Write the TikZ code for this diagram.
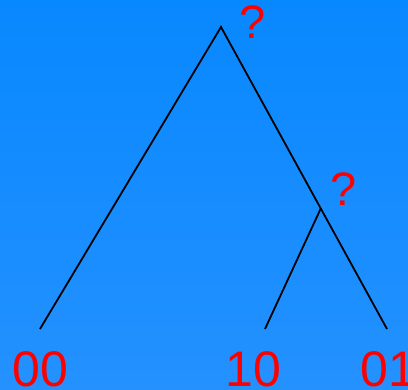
\documentclass[tikz,border=0pt]{standalone}
\usepackage{fontspec}
\setmainfont{Liberation Sans}
\definecolor{bgtop}{RGB}{8,136,255}
\definecolor{bgbot}{RGB}{36,145,255}
\definecolor{lab}{RGB}{255,0,0}
\begin{document}
\begin{tikzpicture}[x=1pt,y=-1pt,
  edge/.style={draw=black,line width=1.8pt},
  leaflab/.style={text=lab,font=\fontsize{50}{50}\selectfont,inner sep=0pt,anchor=base west},
  qlab/.style={text=lab,font=\fontsize{47}{47}\selectfont,inner sep=0pt,anchor=base west}]
\fill[top color=bgtop,bottom color=bgbot] (0,0) rectangle (408,390);
\useasboundingbox (0,0) rectangle (408,390);
\coordinate (root) at (221,27);
\coordinate (mid) at (321,208);
\coordinate (l00) at (40,329);
\coordinate (l10) at (265,329);
\coordinate (l01) at (387,329);
\draw[edge] (l00) -- (root) -- (l01);
\draw[edge] (mid) -- (l10);
\node[qlab] (q1) at (239,39) {?};
\node[qlab] (q2) at (330,206) {?};
\node[leaflab] (t00) at (12,387) {00};
\node[leaflab] (t10) at (225,387) {10};
\node[leaflab] (t01) at (360,387) {01};
\end{tikzpicture}
\end{document}
